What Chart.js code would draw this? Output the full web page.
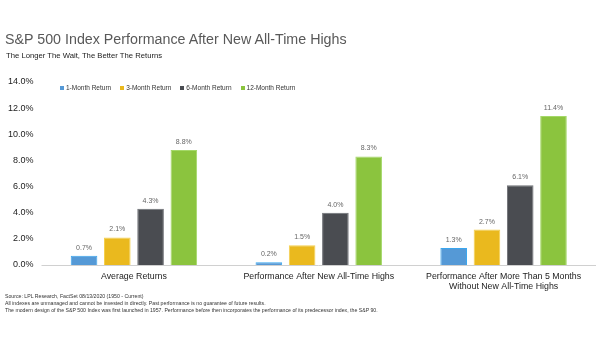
<!DOCTYPE html>
<html>
<head>
<meta charset="utf-8">
<script src="https://cdn.jsdelivr.net/npm/chart.js@4.4.0/dist/chart.umd.min.js"></script>
<style>
    html, body { margin: 0; padding: 0; background: #fff; }
    body { width: 605px; height: 341px; position: relative; overflow: hidden; font-family: Arial, "Liberation Sans", sans-serif; }
    #chart-box { position: absolute; left: 0; top: 0; width: 605px; height: 341px; }
    .title { position: absolute; left: 5px; top: 30px; font-size: 15.5px; color: #595959; white-space: nowrap; transform: scaleX(0.92); transform-origin: left top; }
    .subtitle { position: absolute; left: 6px; top: 51px; font-size: 7.7px; color: #1a1a1a; white-space: nowrap; }
    .notes { position: absolute; left: 5px; top: 293px; font-size: 5.2px; line-height: 7px; color: #333; white-space: nowrap; }
    #legend { position: absolute; left: 60px; top: 84px; font-size: 6.5px; color: #333; white-space: nowrap; }
    #legend span.item { display: inline-block; margin-right: 9px; }
    #legend span.box { display: inline-block; width: 4px; height: 4px; margin-right: 2px; vertical-align: 0px; }
</style>
</head>
<body>
<div id="chart-box"><canvas id="perfChart"></canvas></div>
<div class="title">S&amp;P 500 Index Performance After New All-Time Highs</div>
<div class="subtitle">The Longer The Wait, The Better The Returns</div>
<div id="legend"></div>
<div class="notes">
    Source: LPL Research, FactSet 08/13/2020 (1950 - Current)<br>
    All indexes are unmanaged and cannot be invested in directly. Past performance is no guarantee of future results.<br>
    The modern design of the S&amp;P 500 Index was first launched in 1957. Performance before then incorporates the performance of its predecessor index, the S&amp;P 90.
</div>
<script>
    // categorias e séries
    var categories = [
        ['Average Returns'],
        ['Performance After New All-Time Highs'],
        ['Performance After More Than 5 Months', 'Without New All-Time Highs']
    ];
    var seriesNames = ['1-Month Return', '3-Month Return', '6-Month Return', '12-Month Return'];
    var oneMonth = [0.7, 0.2, 1.3];
    var threeMonth = [2.1, 1.5, 2.7];
    var sixMonth = [4.3, 4.0, 6.1];
    var twelveMonth = [8.8, 8.3, 11.4];
    var yTicks = [0, 2, 4, 6, 8, 10, 12, 14];

    var fillColors = ['#5599d6', '#eab91e', '#4a4c51', '#8bc43e'];
    var edgeColors = ['#3aa6ee', '#f5d04e', '#6e7075', '#a4d868'];
    var seriesValues = [oneMonth, threeMonth, sixMonth, twelveMonth];

    var datasets = seriesNames.map(function(name, i) {
        return {
            label: name,
            data: seriesValues[i],
            backgroundColor: fillColors[i],
            borderColor: edgeColors[i],
            borderWidth: 1,
            categoryPercentage: 0.72,
            barPercentage: 0.8
        };
    });

    // rótulos de valor acima das barras
    const valueLabels = {
        id: 'valueLabels',
        afterDatasetsDraw: (chart) => {
            const ctx = chart.ctx;
            ctx.save();
            ctx.font = '7px Arial, "Liberation Sans", sans-serif';
            ctx.fillStyle = '#666';
            ctx.textAlign = 'center';
            ctx.textBaseline = 'middle';
            chart.data.datasets.forEach(function(ds, i) {
                chart.getDatasetMeta(i).data.forEach(function(bar, j) {
                    ctx.fillText(ds.data[j].toFixed(1) + '%', bar.x, bar.y - 8);
                });
            });
            ctx.restore();
        }
    };

    const baseLine = {
        id: 'baseLine',
        afterDraw: (chart) => {
            const ctx = chart.ctx;
            const y = chart.scales.y.getPixelForValue(0);
            ctx.save();
            ctx.strokeStyle = '#d0d0d0';
            ctx.lineWidth = 1;
            ctx.beginPath();
            ctx.moveTo(chart.chartArea.left, Math.round(y) + 0.5);
            ctx.lineTo(chart.chartArea.right, Math.round(y) + 0.5);
            ctx.stroke();
            ctx.restore();
        }
    };

    var chart = new Chart(document.getElementById('perfChart').getContext('2d'), {
        type: 'bar',
        data: { labels: categories, datasets: datasets },
        options: {
            responsive: true,
            maintainAspectRatio: false,
            animation: false,
            layout: { padding: { top: 82, right: 9, bottom: 43, left: 8 } },
            plugins: {
                legend: { display: false },
                tooltip: { enabled: false }
            },
            scales: {
                x: {
                    grid: { display: false, drawTicks: false },
                    border: { display: false },
                    ticks: {
                        color: '#222',
                        font: { family: 'Arial, "Liberation Sans", sans-serif', size: 8.8 },
                        maxRotation: 0,
                        autoSkip: false,
                        padding: 6
                    }
                },
                y: {
                    min: 0,
                    max: 14,
                    afterBuildTicks: function(axis) {
                        axis.ticks = yTicks.map(function(v) { return { value: v }; });
                    },
                    grid: { display: false },
                    border: { display: false },
                    ticks: {
                        color: '#222',
                        font: { family: 'Arial, "Liberation Sans", sans-serif', size: 9 },
                        padding: 0,
                        callback: function(v) { return v.toFixed(1) + '%'; }
                    }
                }
            }
        },
        plugins: [valueLabels, baseLine]
    });

    // legenda em HTML
    var legendEl = document.getElementById('legend');
    chart.data.datasets.forEach(function(ds) {
        var item = document.createElement('span');
        item.className = 'item';
        item.innerHTML = '<span class="box" style="background:' + ds.backgroundColor + '"></span>' + ds.label;
        legendEl.appendChild(item);
    });
</script>
</body>
</html>
